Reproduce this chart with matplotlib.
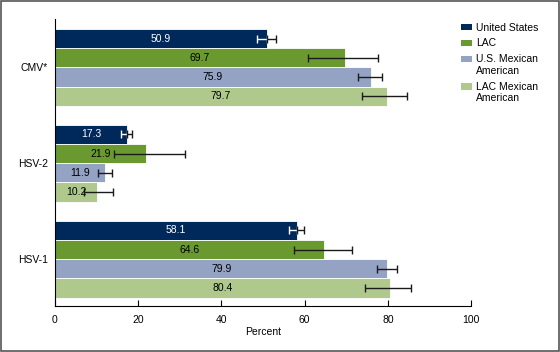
import matplotlib.pyplot as plt
import numpy as np
from matplotlib.patches import Rectangle, Patch
from matplotlib.legend_handler import HandlerPatch

plt.rcParams['font.family'] = ['Liberation Sans', 'DejaVu Sans']

groups = ["HSV-1", "HSV-2", "CMV*"]
series = ["United States", "LAC", "U.S. Mexican\nAmerican", "LAC Mexican\nAmerican"]
colors = ["#00295b", "#6a9a2f", "#94a2c3", "#aec98b"]

# values per series, in the order of groups (HSV-1, HSV-2, CMV*)
us = [58.1, 17.3, 50.9]
lac = [64.6, 21.9, 69.7]
us_mex = [79.9, 11.9, 75.9]
lac_mex = [80.4, 10.2, 79.7]

# confidence interval limits (low, high)
us_low = [56.3, 15.9, 48.6]
us_high = [59.8, 18.6, 53.1]
lac_low = [57.5, 14.3, 60.8]
lac_high = [71.4, 31.3, 77.6]
us_mex_low = [77.5, 10.4, 72.8]
us_mex_high = [82.1, 13.6, 78.7]
lac_mex_low = [74.4, 7.0, 73.8]
lac_mex_high = [85.6, 13.9, 84.6]

values = [us, lac, us_mex, lac_mex]
lows = [us_low, lac_low, us_mex_low, lac_mex_low]
highs = [us_high, lac_high, us_mex_high, lac_mex_high]
text_colors = ["white", "black", "black", "black"]

fs = 7.5

fig = plt.figure(figsize=(5.6, 3.52), dpi=100)
ax = fig.add_axes([0.0982, 0.13, 0.743, 0.815])

y = np.arange(len(groups))
h = 0.2
offsets = [0.3, 0.1, -0.1, -0.3]

for i in range(4):
    v = np.array(values[i])
    lo = v - np.array(lows[i])
    hi = np.array(highs[i]) - v
    pos = y + offsets[i]
    ax.barh(pos, v, height=h, color=colors[i], edgecolor="white", linewidth=0.6,
            zorder=2)
    if i == 0:
        # lower half of the interval sits inside the dark bar: draw it white
        ax.errorbar(v, pos, xerr=[lo, np.zeros(3)], fmt="none", ecolor="white",
                    elinewidth=1, capsize=3.2, capthick=1, zorder=3)
        ax.errorbar(v, pos, xerr=[np.zeros(3), hi], fmt="none", ecolor="#1a1a1a",
                    elinewidth=1, capsize=3.2, capthick=1, zorder=3)
    else:
        ax.errorbar(v, pos, xerr=[lo, hi], fmt="none", ecolor="#1a1a1a",
                    elinewidth=1, capsize=3.2, capthick=1, zorder=3)
    for p, val in zip(pos, v):
        ax.text(val / 2, p, f"{val:.1f}", ha="center", va="center",
                fontsize=fs, color=text_colors[i], zorder=4)

ax.set_xlim(0, 100)
ax.set_ylim(-0.49, 2.5)
ax.set_xticks([0, 20, 40, 60, 80, 100])
ax.set_yticks(y)
ax.set_yticklabels(groups)
ax.tick_params(axis="x", direction="in", length=4.5, labelsize=fs, pad=6)
ax.tick_params(axis="y", length=0, labelsize=fs, pad=5)
ax.set_xlabel("Percent", fontsize=fs, labelpad=2)
ax.spines["top"].set_visible(False)
ax.spines["right"].set_visible(False)


# legend swatch sits next to the first line of a two-line label
def top_swatch(legend, orig_handle, xdescent, ydescent, width, height, fontsize):
    nlines = orig_handle.get_label().count("\n") + 1
    shift = (nlines - 1) * 0.6 * fontsize
    return Rectangle((-xdescent, -ydescent + shift), width, height)


handles = [Patch(facecolor=c, label=s) for c, s in zip(colors, series)]
fig.legend(handles=handles, loc="upper left", bbox_to_anchor=(0.806, 0.962),
           frameon=False, fontsize=fs, handlelength=1.1, handleheight=0.6,
           handletextpad=0.4, labelspacing=0.55,
           handler_map={Patch: HandlerPatch(patch_func=top_swatch)})

fig.patches.append(Rectangle((0.001, 0.002), 0.997, 0.995, transform=fig.transFigure,
                             fill=False, edgecolor="#555555", linewidth=1.2))

plt.savefig("out.png", dpi=100)
